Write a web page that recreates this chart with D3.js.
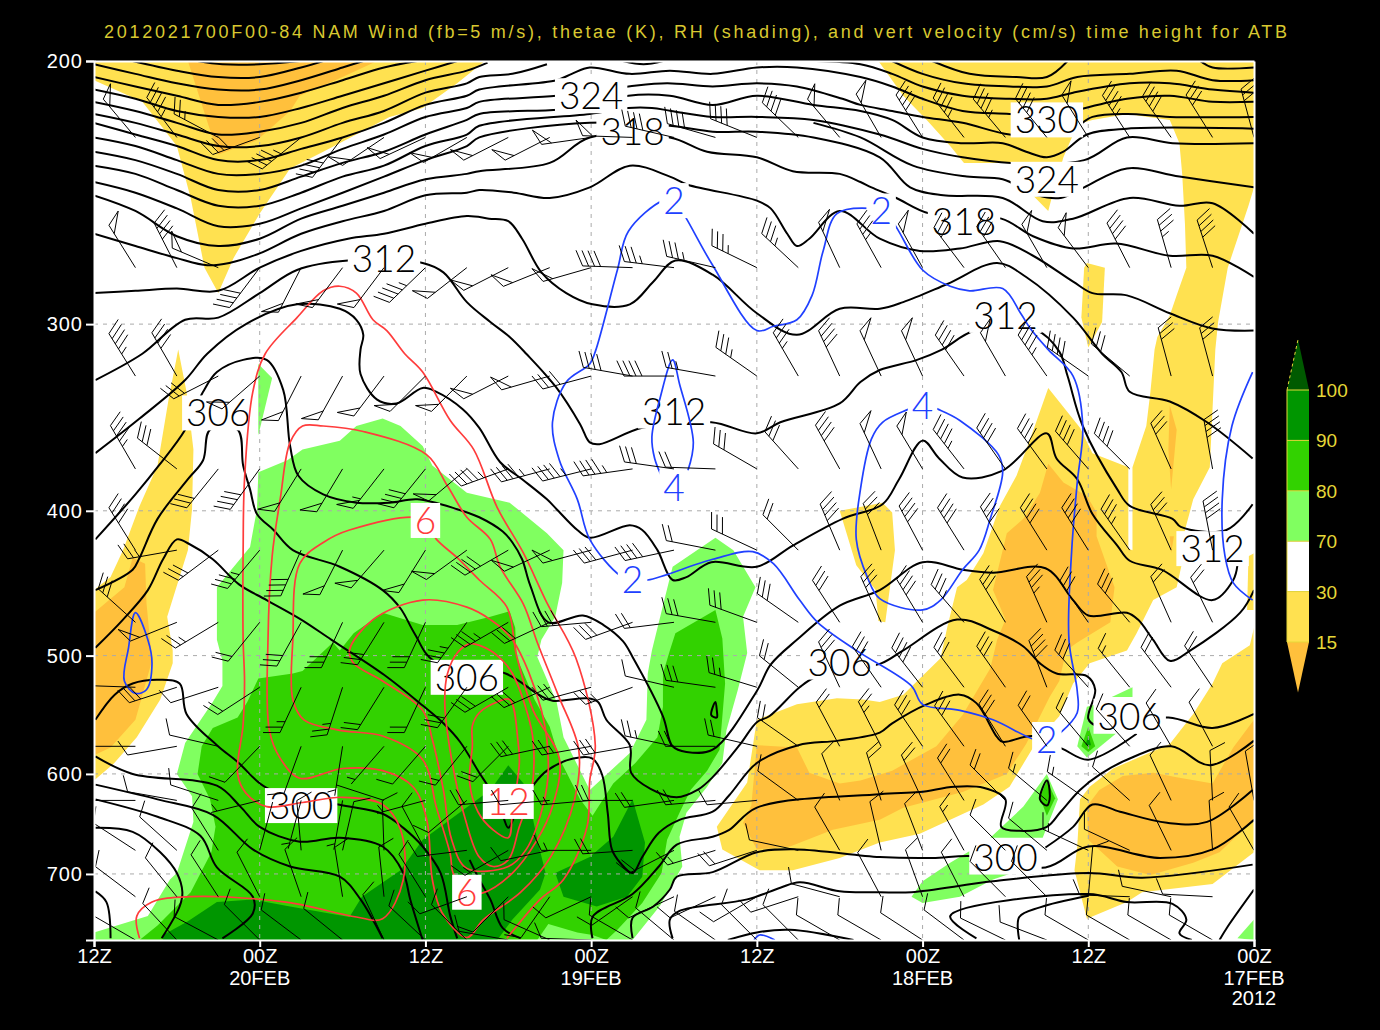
<!DOCTYPE html>
<html><head><meta charset="utf-8">
<script src="https://cdnjs.cloudflare.com/ajax/libs/d3/7.8.5/d3.min.js"></script>
<style>html,body{margin:0;background:#000}svg{display:block}</style></head><body>
<svg id="c" width="1380" height="1030"></svg>
<script>
// ---- axes ----
const titleText="2012021700F00-84 NAM Wind (fb=5 m/s), thetae (K), RH (shading), and vert velocity (cm/s) time height for ATB";
const pressureTicks=[200,300,400,500,600,700];
const timeTicks=[0,12,24,36,48,60,72,84];
const timeLabels=["12Z","00Z","12Z","00Z","12Z","00Z","12Z","00Z"];
const dateLabels=[[12,"20FEB"],[36,"19FEB"],[60,"18FEB"],[84,"17FEB"]];
const rhLevels=["100","90","80","70","30","15"];
const rhColors=["#005a00","#009600","#32d200","#80ff60","#ffffff","#ffe150","#ffc03c"];
// ---- RH shading polygons [hours, hPa] ----
const rhYellow=[
[[0,200],[0,206],[3.5,213],[6,228],[7,247],[8,275],[9,286],[10.1,271],[12,253],[14.2,236],[16.6,230],[20.2,221],[21.4,218],[23.8,215],[26.3,207],[28.3,200]],
[[6.1,312],[6.7,333],[7.2,364],[7.1,399],[6.8,425],[5.3,471],[5.7,496],[5.7,506],[4.8,535],[3.1,567],[1.4,591],[0,606],[0,452],[1.2,443],[2.1,425],[3.3,397],[4.6,373],[5.4,337]],
[[56.8,200],[84,200],[84,243],[83.6,250],[82.8,263],[82.1,275],[81.4,299],[81.2,312],[80.8,374],[79.6,393],[79,412],[78.8,433],[78.4,450],[76.7,459],[75.5,483],[74.8,496],[72.1,506],[70.9,522],[69.9,549],[68.3,570],[66.3,612],[64.4,629],[59.8,658],[56.9,667],[54,683],[50.6,696],[48.2,696],[45.5,674],[45.1,651],[47.3,608],[48,552],[50.9,539],[53.8,534],[55.7,535],[56.9,537],[58.6,531],[61.3,502],[61.8,478],[62.5,450],[63.2,445],[64.4,427],[65.6,397],[66.8,379],[67.8,358],[69.1,331],[71.4,352],[72.3,366],[74.9,374],[74.9,424],[75.2,425],[75.2,374],[76.2,351],[76.5,333],[76.8,312],[77,306],[77.9,296],[78.4,287],[79.1,275],[79,257],[78.8,238],[78.6,227],[77.9,219],[74.8,217],[72.3,219],[71.6,220],[70.9,224],[70.2,232],[69.4,246],[69.1,252],[67.8,245],[66.5,234],[63,234],[62,228],[60.3,219],[58.6,211]],
[[54,400],[57.1,395],[57.8,401],[58,425],[57.3,475],[56.8,474],[56.6,452],[55.2,435]],
[[71.9,273],[73.2,275],[73,299],[72,311],[71.5,297],[71.7,275]],
[[84,479],[83.7,492],[81.7,506],[81,522],[79.6,547],[77.9,573],[73.8,595],[72.1,612],[71.4,624],[71.2,671],[71,696],[71.9,750],[74.8,731],[75.9,720],[81,711],[84,677]],
[[83.5,466],[83.6,429],[84,427],[84,466]]];
const rhOrange=[
[[6.8,200],[8.3,221],[9,231],[11.8,226],[14.2,216],[14.9,211],[18,205],[20.5,200]],
[[2.8,430],[3.7,434],[3.8,461],[4.2,504],[3,552],[1.2,576],[0,583],[0,468],[2.2,450]],
[[69.1,372],[68.5,389],[67.3,405],[66.1,414],[65.1,452],[66,473],[65.4,488],[64.9,510],[62.9,548],[61,575],[57.8,597],[55.5,606],[54,609],[51.8,599],[50.9,576],[48,574],[47.6,630],[47,647],[48,674],[50.4,671],[53.5,654],[56.9,644],[58.6,632],[62.9,617],[66.1,600],[67.5,573],[69.2,533],[69.9,520],[70.4,496],[71.2,490],[73.6,475],[73.9,450],[72.6,416],[72.6,401],[71.9,391],[70.2,383]],
[[77.9,340],[78.4,353],[78,387],[77.8,364]],
[[77.9,416],[78,427],[78.2,416]],
[[74.5,602],[72.8,615],[71.9,631],[72,664],[74.1,692],[76.5,701],[79.6,688],[81.5,677],[84,644],[84,552],[82.5,576],[81,609],[78.4,603],[76.7,599]]];
const rhLight=[
[[11.9,377],[14,370],[15.1,364],[17.8,359],[19,351],[20.9,347],[22.2,351],[23.8,362],[24.5,373],[27,389],[30.1,395],[32.8,414],[34,425],[33.9,447],[33.4,471],[32.4,488],[32.1,501],[33.5,537],[34,567],[35.9,615],[38.8,581],[40,552],[40.1,514],[40.4,496],[41.3,459],[41.9,436],[45,417],[46.3,425],[47.9,450],[47,471],[47.3,498],[46.6,528],[45.8,561],[45.5,590],[44.4,612],[42.9,637],[42.4,661],[42.6,692],[41,735],[39,775],[0,775],[0,766],[3.9,747],[5.5,706],[6,699],[7.2,646],[7.1,621],[6,600],[6.6,572],[8.6,537],[9.3,524],[9.3,504],[8.9,488],[8.9,450],[11.3,423],[11.8,399]],
[[11.9,319],[12.9,326],[11.9,356]],
[[62,688],[63.6,674],[66.5,699],[65.1,706],[62.7,725],[60,732],[59.2,725],[60,708]],
[[64.9,662],[67.3,631],[69,600],[69.8,624],[68.7,662]],
[[71.2,575],[71.9,541],[72.6,539],[74.1,563],[71.9,585]],
[[73.7,533],[75.2,525],[75.2,533]],
[[82.8,773],[84,751],[84,775]]];
const rhMid=[
[[17.8,496],[18.8,483],[20.9,468],[23.8,477],[26.3,477],[28.7,471],[30.1,467],[30.5,479],[30.6,501],[31.9,535],[33,558],[33.7,586],[35.2,624],[36.1,640],[37.6,609],[39.2,590],[40.8,567],[41.2,541],[41.2,514],[41.7,496],[42.1,483],[45,466],[45.5,487],[45.7,522],[45.3,578],[44.4,597],[43.2,615],[42.4,637],[41.5,664],[41.1,699],[39.7,732],[37.9,763],[37.1,775],[36.1,769],[35,766],[32.9,756],[32.1,775],[3.3,775],[4.6,758],[7,720],[8.5,677],[8.8,651],[8.4,624],[7.5,600],[7.8,575],[8.6,559],[10.4,550],[11.1,537],[11.9,518],[14.4,514],[15.1,512],[17.3,490]],
[[69,606],[68.5,622],[69,640],[69.6,623]],
[[72,558],[71.5,575],[72,580],[72.5,575]]];
const rhDark=[
[[5,775],[5,769],[6.8,753],[8.9,731],[11.5,728],[14.2,736],[18.5,748],[19.4,725],[22.2,696],[23.8,664],[28.7,615],[30,592],[31.3,612],[32.1,664],[32.7,699],[32.3,717],[30.3,751],[29.2,775]],
[[33.4,699],[35.9,682],[37.6,661],[39,624],[39.9,667],[39.7,703],[38.6,725],[36.4,736],[34,725]],
[[72,565],[71.8,574],[72.2,574]]];
// ---- thetae contours ----
const thetaeOpen=[
[[7.5,200],[9.3,201],[12,201],[14.9,200]],
[[38.3,200],[39.8,201],[41.2,200]],
[[60.7,200],[63.4,204],[66.8,205],[69,205],[70.5,200]],
[[80.1,200],[81,202],[84,202]],
[[57.8,200],[60,204],[62.9,207],[66.3,208],[69,208],[71.2,205],[75,204],[78.4,203],[81,206],[84,206]],
[[52.3,200],[55.5,201],[57.8,204],[60,208],[62.9,211],[66.3,212],[69,212],[70.9,210],[75,207],[77.9,207],[81,209],[84,210]],
[[2.8,200],[6,203],[9,205],[12,205],[15,202],[16.6,200]],
[[0,201],[3,204],[6,207],[9,209],[12,209],[15,206],[18,202],[19.5,200]],
[[0,205],[3,208],[6,211],[9,214],[12,213],[15,210],[18,206],[21,202],[23.4,200]],
[[0,209],[3,212],[6,216],[9,218],[12,218],[15,215],[18,211],[21,207],[24,203],[26.3,200]],
[[0,213],[3,216],[6,220],[9,224],[12,223],[15,220],[18,215],[21,211],[24,206],[27,203],[28.5,200.5]],
[[0,217],[3,220],[6,224],[9,228],[12,228],[15,225],[18,220],[21,216],[24,210],[27,207],[27.9,205],[30.3,204],[32.8,201]],
[[0,220],[3,224],[6,228],[9,233],[12,233],[15,229],[18,225],[21,220],[24,214],[27,211],[27.9,209],[33.5,206],[34.6,204],[35.9,202],[38.8,204],[41.7,203],[44.8,204],[48,202],[50.9,202],[55.5,205],[57.8,208],[60,212],[62.9,216],[66.3,217],[69,218],[70.9,216],[74.8,212],[77.9,211],[81,213],[84,213]],
[[0,225],[3,228],[6,233],[9,238],[12,238],[15,235],[18,229],[21,224],[24,218],[27,215],[27.9,213],[33.5,211],[38.7,208],[41.5,207],[44.8,208],[48,207],[50.9,208],[54.2,212],[55.5,214],[57.8,216],[60,218],[62.9,220],[66.3,224],[69,224],[70.9,222],[72.3,218],[74.8,217],[77.9,218],[84,218]],
[[0,230],[3,233],[6,238],[9,244],[12,244],[15,239],[18,234],[21,230],[24,224],[27,219],[27.9,217],[35.2,215],[38.7,211],[41.7,211],[44.8,214],[48,211],[52.1,214],[55.5,216],[57.8,219],[60,225],[62.9,227],[65.8,227],[67.5,230],[69,232],[70.2,230],[71.9,224],[74.8,222],[84,222]],
[[0,235],[3,238],[6,244],[9,250],[12,250],[15,245],[18,239],[21,235],[24,228],[27,224],[27.9,221],[35.9,217],[38.7,215],[40.4,215],[41.8,216],[44.8,218],[48,218],[52.1,219],[56.9,224],[60,229],[62.9,232],[66.4,234],[71.7,233],[74.8,225],[78.1,227],[84,227]],
[[0,241],[3,245],[6,251],[9,258],[12,257],[15,251],[18,245],[21,239],[24,233],[27,228],[27.9,225],[35.9,220],[41.7,221],[44.8,223],[48,223],[52.1,225],[56.9,232],[59.1,243],[61.5,246],[65.8,247],[68.7,256],[70.9,255],[75,247],[78.6,250],[81,249],[84,261]],
[[52.1,220],[55.5,225],[59.3,235],[63.2,239],[65.8,240],[68.3,246],[70,247],[71.7,243],[74.8,236],[78.6,239],[84,243]],
[[0,246],[3,252],[6,262],[9,266],[12,263],[15,255],[18,250],[21,245],[24,240],[27,238],[27.9,237],[33,234],[35.9,225],[41.7,225],[44.4,230],[48,232],[50.6,237],[54,238],[55.5,241],[56.3,243],[58.1,247],[60.5,253],[65.7,255],[68,262],[70.9,267],[74,265],[77.9,270],[81,270],[84,279]],
[[0,261],[3,266],[6,271],[8.2,274],[9.8,273],[12,269],[15,261],[18,256],[21,252],[24,246],[27,245],[27.9,244],[30.4,245],[33,247],[35.9,243],[38.8,235],[41.7,239],[43,242],[48,248],[49,251],[50.2,261],[50.9,266],[51.8,263],[54,252],[56.9,263],[59.8,268],[62.7,267],[65.6,264],[68,270],[70.9,281],[72.3,286],[74.8,287],[77.9,295],[81,302],[84,303]],
[[0,286],[3,285],[6,284],[9,285],[12,275],[15,268],[18.4,263],[21,261],[24,257],[27,254],[28.6,255],[30,256],[31,263],[32.4,277],[34.2,286],[36.1,291],[38.8,291],[40.5,281],[42.1,272],[44.8,278],[48,295],[50.9,305],[54,293],[56.9,293],[58.6,290],[61.8,282],[65.4,273],[67.5,279],[70.9,297],[73,314],[74.4,323],[75,333],[77.9,338],[80.6,349],[83.9,369]],
[[0.1,327],[3.5,314],[6.6,298],[9,297],[12,286],[14.7,276],[18.4,272],[23.8,273],[25.3,277],[27,290],[28.7,299],[30.1,306],[31.3,314],[33.5,331],[35.2,350],[35.9,360],[36.6,361],[39.7,352],[44.7,349],[48,355],[49.7,349],[54,339],[55.5,328],[56.9,322],[59.6,317],[61.4,312],[63.8,303],[68.3,303],[69.9,313],[70.5,325],[71.6,351],[74.1,387],[75,397],[78.1,405],[78.7,410],[82,412],[83.9,396]],
[[0.1,366],[3.3,347],[6.6,327],[8.2,314],[11,300],[14.7,291],[17.8,293],[19,298],[19.5,305],[19.3,312],[19.3,324],[20.5,337],[21.9,339],[23.8,331],[24.8,333],[26.7,342],[27.9,352],[29.4,371],[31,381],[32.8,393],[33.5,399],[35,412],[35.9,417],[38.8,409],[39.7,412],[40.8,425],[41.9,445],[42.9,443],[44.7,433],[48,436],[50.6,422],[54.2,405],[57.1,396],[58.3,381],[60,359],[61.2,369],[62.9,380],[65.8,376],[69,355],[69.7,369],[71.2,381],[72.3,402],[74.1,422],[75,432],[77.3,438],[81,459],[82.5,445],[82.8,435]],
[[0.1,418],[3,390],[4.7,373],[6.6,353],[7.9,333],[8.9,323],[10.8,317],[12.5,317],[13.7,332],[14.2,362],[14.8,379],[16.6,390],[19,395],[21.4,395],[23.4,393],[26.3,399],[27.9,404],[29.6,413],[30.3,420],[31,431],[31.6,449],[32.9,475],[35.4,470],[36.9,477],[38.3,489],[39,501],[41.2,549],[41.9,575],[42.9,580],[44.8,578],[48,528],[49,507],[50.9,488],[54,463],[56.9,452],[60,433],[62.9,438],[65.1,440],[68.9,437],[70.9,459],[72,470],[74.8,468],[75.6,473],[76.7,488],[77.9,504],[79.4,496],[83,468],[84,452]],
[[0.1,452],[2.8,438],[3.3,430],[4.6,405],[6.8,381],[7.9,370],[8.4,353],[10.4,353],[10.8,373],[11.3,387],[11.8,402],[13,412],[14.4,425],[17.8,436],[20.9,452],[22.2,465],[23.2,483],[24.6,504],[29.8,514],[32.2,531],[33.2,536],[35.7,534],[36.5,537],[37.1,552],[38.8,574],[38.9,599],[40.3,614],[42.2,622],[43.7,615],[44.8,603],[46.8,573],[48,554],[48.9,549],[51.1,525],[52.4,516],[57,506],[58.6,496],[62.5,473],[65.1,481],[67.3,493],[68.5,506],[69.7,514],[71.9,516],[72.5,527],[72,551],[72.6,557],[77.8,550],[81,559],[84,547]],
[[0.1,494],[2.1,473],[3.9,452],[5,431],[6,418],[6.9,421],[8.6,431],[10.5,448],[12.5,459],[15,473],[17.2,488],[21,515],[23.8,540],[25.3,555],[26.5,571],[27.9,599],[28.7,615],[29.6,640],[30,652],[30.5,639],[31.9,609],[32.8,597],[34.7,586],[36.1,586],[36.8,601],[37.2,637],[37.5,674],[38.1,688],[39,699],[39.7,682],[40.9,657],[42.4,644],[44.8,636],[46,620],[48,590],[51,574],[53.9,570],[56.9,563],[57.8,555],[60.3,539],[62.7,531],[63.9,538],[65.4,567],[65.8,571],[68,566],[70.1,577],[72,587],[75.5,564]],
[[36.1,773],[36.1,748],[39,722],[40.9,692],[42.2,669],[44.8,661],[46,654],[48,632],[56.9,619],[59.8,617],[62.3,612],[64.4,613],[66,624],[65.7,651],[67,655],[69,651],[70,636],[71.4,615],[72.9,600],[74.8,587],[78,575],[80.8,592],[84,570]],
[[39,773],[39,749],[40.5,736],[41.7,717],[42.2,703],[44.8,698],[48,677],[50.9,674],[56.9,682],[60.7,683],[63.6,681],[68.9,693],[72,671],[77.2,683],[81,674],[84,644]],
[[68.9,672],[70.9,651],[72.3,629],[74.3,636],[77.7,647],[80.6,646],[83.9,615]],
[[41.9,773],[41.7,751],[42.4,741],[47.3,728],[49.7,715],[51.1,709],[54,719],[56.9,720],[59.2,720],[65.1,708],[72,699],[75.9,704],[83.9,690]],
[[45.9,775],[48,766],[50.4,763],[55,775]],
[[63.9,773],[62,747],[72,722],[74.8,731],[78.1,733],[79.1,751],[78.6,767],[79.5,775]],
[[67,775],[67,748],[68.5,737],[72,724]],
[[84,717],[82.1,759],[81.5,775]],
[[0.1,552],[1.5,531],[2.8,522],[4.6,519],[6.2,522],[6.7,547],[8.9,574],[10.4,589],[12.5,613],[17.7,629],[20.9,638],[22.4,652],[23.8,671],[25.1,699],[25.8,747],[26.3,773]],
[[0.1,584],[2.8,600],[8.9,611],[10.6,631],[12,651],[14.9,666],[17.8,662],[20.9,671],[22.4,699],[22.9,728],[23.8,775]],
[[0.1,610],[4.6,624],[8.6,639],[11.5,674],[14.2,692],[17.8,703],[19.3,728],[20.9,773]],
[[0.1,652],[2.8,656],[4.8,677],[6,699],[6.4,720],[6.2,736],[4.9,773]],
[[0.1,719],[0.9,731],[1.2,773]],
[[0.1,624],[4.6,641],[7.7,660],[8.9,693],[11.5,725],[11.5,744],[9.3,773]],
[[27.2,685],[27.9,706],[28.7,728],[29.6,761],[30.9,773]]];
const thetaeClosed=[
[[45,537],[44.7,548],[45.1,550],[45.1,544]],
[[69,606],[68.5,624],[69,630],[69.2,624],[69.1,608]]];
// ---- vertical velocity contours ----
const upwardOpen=[
[[3.3,773],[3.1,747],[4.2,731],[6.9,725],[13.9,731],[19,748],[20.9,750],[22.4,706],[22.2,654],[20.9,629],[18,622],[15.1,627],[12.5,631],[11,618],[10.4,600],[10.8,556],[10.9,520],[10.8,488],[10.8,425],[10.9,381],[11.5,333],[12.4,314],[14.7,297],[16.6,285],[17.8,283],[19,286],[20.2,298],[21.2,303],[22.5,314],[23.8,323],[25.8,348],[27.5,364],[29.2,398],[31.1,427],[32.8,461],[34.9,502],[36.3,574],[35.9,606],[35.7,651],[34,706],[32.3,728],[29.9,773]]];
const upwardClosed=[
[[15.1,351],[14.2,360],[13.5,392],[12.9,429],[12.6,488],[12.7,561],[13.5,586],[14.9,604],[18,595],[20.9,597],[23.1,612],[24.1,644],[24.5,706],[25.2,743],[27,772],[28.2,751],[30.9,720],[33.1,681],[34.8,624],[35.1,578],[33.6,531],[32.1,490],[31.1,462],[29.4,436],[28.7,418],[27,404],[25.6,385],[24.1,367],[19.5,354],[16.6,351]],
[[23.8,405],[18.5,412],[16.6,420],[14.9,434],[14.4,488],[14.4,535],[15.2,552],[17.8,561],[20.9,566],[23.8,587],[24.8,632],[25.8,679],[26,699],[27,720],[28.1,721],[30.3,699],[32.1,664],[33.2,631],[33.7,586],[31.8,544],[30.6,500],[29.9,464],[27.9,445],[26.3,430],[24.8,418]],
[[18.5,496],[20.2,473],[23.8,459],[27,464],[28.7,473],[30.3,488],[32.4,544],[32.9,595],[32.5,631],[31.3,674],[30,692],[27,694],[25.9,664],[25.3,615],[24.5,569],[23.8,544],[20.9,520],[18.8,506]],
[[27.2,491],[28.7,496],[29.6,504],[30.3,514],[31.4,547],[31.8,570],[31.7,614],[30.8,651],[30,685],[28.9,692],[27.9,682],[26.9,644],[25.9,587],[25.4,537],[25.6,514],[26.3,498]],
[[27.9,546],[29.2,537],[30.1,535],[30.7,570],[30.8,590],[30.3,637],[30,662],[28.9,654],[27.8,636],[27.2,608],[27.4,574],[27.4,557]]];
const downwardOpen=[
[[41.2,381],[40.6,369],[40.4,357],[41,336],[41.9,317],[42.4,329],[43.4,360],[43,376]],
[[83.9,323],[82.4,351],[81.7,393],[81.9,429],[82.5,447],[83.9,459]],
[[47.8,775],[48.2,769],[49.3,775]]];
const downwardClosed=[
[[41.2,248],[38.7,260],[37.9,276],[36.3,313],[35.9,319],[34.2,328],[33.2,349],[33.7,370],[35,393],[35.9,418],[38.1,442],[39,445],[40.1,445],[44.8,431],[47.7,426],[49.2,434],[51.1,459],[52.4,475],[55.2,496],[59.2,524],[60,539],[62.7,544],[65.1,552],[68.1,569],[69.1,570],[70,563],[71.2,546],[71.2,528],[70.6,488],[70.8,425],[71.2,383],[71.6,351],[70.9,325],[69.1,312],[67.8,302],[67.1,295],[65.8,284],[63.4,285],[62,283],[60,276],[57.8,256],[56.9,252],[56.2,251],[53.8,253],[52.8,268],[52,287],[50.9,298],[49.2,301],[48,303],[44.8,274],[42.9,255],[42.1,248]],
[[60,339],[59,342],[57.1,349],[56.3,358],[55.5,387],[55.2,418],[56,443],[56.9,458],[60,466],[61.3,459],[62.9,438],[64.1,425],[64.9,405],[65.8,377],[65.5,367],[62.7,348],[61.1,342]],
[[3,468],[2.5,494],[2.2,520],[3,530],[3.8,527],[4.2,506],[3.9,488]]];
// ---- contour labels [text, hours, hPa] ----
const thetaeLabels=[["324",36,211],["318",39,223],["312",21,271],["306",9,344],["306",27,517],["300",15,630],["306",54,505],["312",42,343],["312",66,296],["318",63,256],["324",69,240],["330",69,219],["312",81,424],["306",75,549],["300",66,682]];
const upwardLabels=[["6",24,406],["12",30,626],["6",27,720]];
const downwardLabels=[["2",42,248],["2",57,252],["4",60,340],["4",42,386],["2",39,445],["2",69,569]];
// ---- wind barbs: direction (deg from) and speed (m/s) for columns 3h..84h ----
const barbHours=d3.range(3,85,3);
const barbLevels=[225,275,325,375,425,475,525,575,625,675,725,775];
const dir225=[320,323,298,250,231,217,236,245,240,243,243,262,272,283,286,292,314,320,330,328,322,320,321,328,327,325,328,345];
const spd225=[25,22.5,12.5,20,22.5,20,25,25,25,25,25,25,25,20,20,20,20,25,25,20,22.5,22.5,20,25,22.5,20,15,15];
const dir275=[328,333,293,217,207,217,217,226,232,243,248,254,272,277,283,296,313,335,331,331,323,325,330,323,333,344,342,0];
const spd275=[25,20,25,20,25,25,25,22.5,25,25,25,25,20,17.5,17.5,17.5,17.5,25,17.5,25,15,15,25,25,20,17.5,20,0];
const dir325=[328,330,243,229,207,209,217,225,225,243,254,255,280,270,280,305,330,335,335,335,325,330,325,305,310,345,345,0];
const spd325=[22.5,20,15,25,25,25,25,25,25,25,25,20,20,20,12.5,17.5,17.5,20,25,25,20,25,22.5,20,15,15,15,0];
const dir375=[330,308,219,216,212,211,218,219,230,250,255,256,262,278,272,300,318,331,335,329,322,325,324,319,315,336,350,0];
const spd375=[22.5,15,15,20,25,25,27.5,20,25,22.5,22.5,22.5,22.5,15,10,15,15,20,25,25,22.5,20,20,20,20,15,20,0];
const dir425=[328,260,233,220,204,207,221,212,234,240,245,255,255,258,281,295,315,337,339,332,328,330,328,328,325,336,349,0];
const spd425=[20,12.5,15,17.5,20,25,25,25,25,20,25,25,15,20,10,15,10,20,15,20,20,20,20,20,17.5,15,20,0];
const dir475=[312,248,239,219,209,205,212,205,216,240,245,265,250,263,280,290,305,327,336,329,319,329,336,325,320,336,334,0];
const spd475=[15,25,12.5,10,15,15,15,15,17.5,17.5,15,20,15,10,15,15,15,15,15,20,17.5,15,17.5,15,15,10,10,0];
const dir525=[272,252,252,237,205,198,212,205,216,240,246,255,250,283,278,287,309,335,325,322,323,325,339,318,321,323,326,0];
const spd525=[10,15,5,10,12.5,12.5,10,10,15,15,15,15,12.5,5,15,12.5,10,15,15,20,15,15,20,15,7.5,10,10,0];
const dir575=[270,260,283,224,200,189,221,221,219,225,258,260,260,282,270,283,305,332,333,326,324,328,325,320,318,330,332,0];
const spd575=[10,5,5,5,5,2.5,2.5,5,7.5,10,15,12.5,15,12.5,10,10,10,10,12.5,15,15,15,10,10,5,5,5,0];
const dir625=[270,280,288,256,195,190,288,255,230,265,265,265,270,262,265,265,306,339,343,335,328,315,310,305,312,335,357,350];
const spd625=[5,5,5,2.5,2.5,2.5,1,2.5,5,10,5,7.5,10,10,10,5,5,5,10,10,10,10,7.5,7.5,5,5,5,5];
const dir675=[303,312,328,15,355,13,358,332,263,240,258,270,266,243,253,252,282,330,347,339,331,315,310,295,295,334,356,330];
const spd675=[5,5,5,1,5,5,5,5,5,7.5,5,7.5,10,10,7.5,10,5,5,5,5,7.5,5,5,7.5,5,5,5,5];
const dir725=[307,321,327,333,341,351,354,328,250,225,215,245,235,245,245,240,252,285,332,340,333,315,315,5,272,282,273,0];
const spd725=[5,5,5,5,5,5,5,5,5,5,5,5,5,5,5,5,5,5,5,5,5,5,5,5,5,5,5,0];
const dir775=[300,317,298,315,307,309,335,313,315,280,294,272,300,310,305,315,315,300,300,303,307,296,291,300,300,300,300,0];
const spd775=[5,5,5,5,5,5,5,5,5,5,5,5,5,5,5,5,5,5,5,5,5,5,5,5,5,5,5,0];
const barbDirs=[dir225,dir275,dir325,dir375,dir425,dir475,dir525,dir575,dir625,dir675,dir725,dir775];
const barbSpeeds=[spd225,spd275,spd325,spd375,spd425,spd475,spd525,spd575,spd625,spd675,spd725,spd775];

// ---- drawing ----
const svg=d3.select("#c");
const L=94,R=1254,T=61,B=940;
const x=d3.scaleLinear().domain([0,84]).range([L,R]);
const y=d3.scaleLog().domain([200,775]).range([T,B]);
svg.append("defs").append("clipPath").attr("id","plot").append("rect").attr("x",L).attr("y",T).attr("width",R-L).attr("height",B-T);
svg.append("rect").attr("x",L).attr("y",T).attr("width",R-L).attr("height",B-T).attr("fill","#fff");
const plot=svg.append("g").attr("clip-path","url(#plot)");
const poly=d3.line().x(d=>x(d[0])).y(d=>y(d[1])).curve(d3.curveLinearClosed);
[[rhYellow,rhColors[5]],[rhOrange,rhColors[6]],[rhLight,rhColors[3]],[rhMid,rhColors[2]],[rhDark,rhColors[1]]].forEach(([set,c])=>{
  plot.append("g").selectAll("path").data(set).join("path").attr("d",poly).attr("fill",c);
});
// grid
const gridG=plot.append("g").attr("stroke","#aaa").attr("stroke-width",1).attr("stroke-dasharray","4,5");
timeTicks.slice(1,-1).forEach(h=>gridG.append("line").attr("x1",x(h)).attr("x2",x(h)).attr("y1",T).attr("y2",B));
pressureTicks.slice(1).forEach(p=>gridG.append("line").attr("x1",L).attr("x2",R).attr("y1",y(p)).attr("y2",y(p)));
// contours
const open=d3.line().x(d=>x(d[0])).y(d=>y(d[1])).curve(d3.curveCatmullRom.alpha(0.5));
const closed=d3.line().x(d=>x(d[0])).y(d=>y(d[1])).curve(d3.curveCatmullRomClosed.alpha(0.5));
function contours(o,c,color,w,labels){
  const g=plot.append("g").attr("fill","none").attr("stroke",color).attr("stroke-width",w).attr("stroke-linejoin","round");
  g.selectAll("path.o").data(o).join("path").attr("class","o").attr("d",open);
  g.selectAll("path.c").data(c).join("path").attr("class","c").attr("d",closed);
  labels.forEach(([t,h,p])=>{
    const lg=plot.append("g");
    const box=lg.append("rect").attr("fill","#fff");
    const tx=lg.append("text").text(t).attr("x",x(h)).attr("y",y(p)+13.5).attr("text-anchor","middle")
      .attr("font-family","Lato,'Open Sans',sans-serif").attr("font-weight",300).attr("font-size",37).attr("fill",color);
    const w2=tx.node().getComputedTextLength();
    box.attr("x",x(h)-w2/2-4).attr("y",y(p)-17.5).attr("width",w2+8).attr("height",35);
  });
}
contours(thetaeOpen,thetaeClosed,"#000",2,thetaeLabels);
contours(upwardOpen,upwardClosed,"#ff3c3c",1.7,upwardLabels);
contours(downwardOpen,downwardClosed,"#2040ff",1.7,downwardLabels);
// barbs
const staff=50,feather=17,gap=6;
const barbG=plot.append("g").attr("fill","none").attr("stroke","#000").attr("stroke-width",1);
barbLevels.forEach((lev,i)=>barbHours.forEach((h,j)=>{
  const s=barbSpeeds[i][j]; if(!s) return;
  const a=barbDirs[i][j]*Math.PI/180;
  const ux=Math.sin(a),uy=-Math.cos(a);
  const px=-uy,py=ux;
  const fx=px*0.906+ux*0.42,fy=py*0.906+uy*0.42;
  const bx=x(h),by=y(lev),tx=bx+ux*staff,ty=by+uy*staff;
  const path=d3.path();
  path.moveTo(bx,by);path.lineTo(tx,ty);
  let pos=0,rem=s;
  while(rem>=25){
    const ax=tx-ux*pos,ay=ty-uy*pos;
    path.moveTo(ax,ay);path.lineTo(ax+fx*feather,ay+fy*feather);
    path.lineTo(ax-ux*10,ay-uy*10);pos+=12;rem-=25;
  }
  while(rem>=5){
    const ax=tx-ux*pos,ay=ty-uy*pos;
    path.moveTo(ax,ay);path.lineTo(ax+fx*feather,ay+fy*feather);pos+=gap;rem-=5;
  }
  if(rem>=2.5){
    if(pos===0)pos=gap;
    const ax=tx-ux*pos,ay=ty-uy*pos;
    path.moveTo(ax,ay);path.lineTo(ax+fx*feather/2,ay+fy*feather/2);
  }
  barbG.append("path").attr("d",path.toString());
}));
// axes
const fontAxis="'Liberation Sans',sans-serif";
const ax=svg.append("g").attr("transform",`translate(0,${B})`).call(d3.axisBottom(x).tickValues(timeTicks).tickSize(7).tickFormat((d,i)=>timeLabels[i]));
const ay=svg.append("g").attr("transform",`translate(${L},0)`).call(d3.axisLeft(y).tickValues(pressureTicks).tickSize(8).tickFormat(d3.format("d")));
const at=svg.append("g").attr("transform",`translate(0,${T})`).call(d3.axisTop(x).tickValues([]).tickSize(0));
const ar=svg.append("g").attr("transform",`translate(${R},0)`).call(d3.axisRight(y).tickValues([]).tickSize(0));
[ax,ay,at,ar].forEach(g=>{
  g.selectAll("path,line").attr("stroke","#fff").attr("stroke-width",2);
  g.selectAll("text").attr("fill","#fff").attr("font-family",fontAxis).attr("font-size",20);
});
ax.selectAll("text").attr("y",9).attr("dy","0.71em");
ay.selectAll("text").attr("x",-11).attr("letter-spacing",1);
dateLabels.forEach(([h,t])=>svg.append("text").text(t).attr("x",x(h)).attr("y",985).attr("text-anchor","middle").attr("fill","#fff").attr("font-family",fontAxis).attr("font-size",20));
svg.append("text").text("2012").attr("x",x(84)).attr("y",1005).attr("text-anchor","middle").attr("fill","#fff").attr("font-family",fontAxis).attr("font-size",20);
// title
svg.append("text").text(titleText).attr("x",104).attr("y",38).attr("fill","#d8c830").attr("font-family",fontAxis).attr("font-size",18)
  .attr("textLength",1183).attr("lengthAdjust","spacing");
// colour bar
const barY=d3.scaleLinear().domain([0,rhLevels.length-1]).range([390,642]);
const bx0=1287,bx1=1309,bc=1298,step=barY(1)-barY(0);
const cbar=svg.append("g");
cbar.append("path").attr("d",`M${bx0},${barY(0)}L${bc},${barY(0)-step}L${bx1},${barY(0)}Z`).attr("fill",rhColors[0]);
cbar.append("line").attr("x1",bx0).attr("y1",barY(0)).attr("x2",bc).attr("y2",barY(0)-step).attr("stroke","#e6d838").attr("stroke-dasharray","3,3");
rhLevels.slice(0,-1).forEach((_,i)=>{
  cbar.append("rect").attr("x",bx0).attr("y",barY(i)).attr("width",bx1-bx0).attr("height",step).attr("fill",rhColors[i+1]);
});
cbar.append("path").attr("d",`M${bx0},${barY(5)}L${bc},${barY(5)+step}L${bx1},${barY(5)}Z`).attr("fill",rhColors[6]);
rhLevels.forEach((t,i)=>{
  cbar.append("line").attr("x1",bx0).attr("x2",bx1).attr("y1",barY(i)).attr("y2",barY(i)).attr("stroke","#e6d838");
  cbar.append("text").text(t).attr("x",1316).attr("y",barY(i)+7).attr("fill","#e6d838").attr("font-family",fontAxis).attr("font-size",19);
});
cbar.append("line").attr("x1",bx0).attr("x2",bx0).attr("y1",barY(0)).attr("y2",barY(5)).attr("stroke","#e6d838");
</script></body></html>
